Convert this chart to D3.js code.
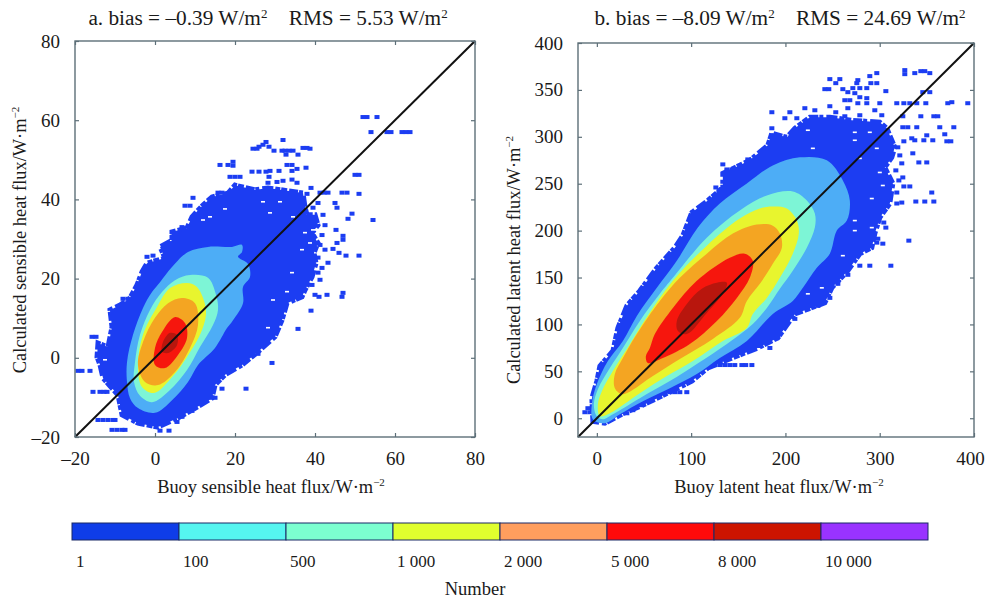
<!DOCTYPE html>
<html>
<head>
<meta charset="utf-8">
<script src="https://cdn.jsdelivr.net/npm/d3@7"></script>
<style>
  html, body { margin: 0; padding: 0; background: #fff; }
  svg { display: block; }
  text { font-family: "Liberation Serif", serif; fill: #1a1a1a; }
</style>
</head>
<body>
<script>
// density bands, outermost first, values are [buoy flux, calculated flux] in W/m2
const bandColors = ['#1c3ef2', '#4dadf6', '#7df5d6', '#e8f52e', '#f4a522', '#f6190f', '#b81308']

const sensibleBlue = [[-9.25,-9.4],[-13,-5.1],[-13.75,-1.8],[-14.5,0.2],[-14.25,3.7],[-11.75,2.7],[-10.75,7.8],[-11.25,12.1],[-8.75,13.3],[-6.25,15.1],[-4.5,18.4],[-3.25,21.7],[-2,23.9],[2.5,25.2],[1.25,28],[4.25,29.7],[4.25,31.8],[8,32.8],[9.25,35.6],[12,38.6],[14.25,40.6],[18.25,41.6],[20,43.6],[25,42.4],[28.25,42.9],[37,41.6],[37.5,38.1],[38,36.1],[40,36.1],[40.75,33.5],[39.25,31.5],[40.75,29],[39.75,26.5],[40.25,23.9],[39.25,20.4],[37.5,17.1],[36.75,15.4],[33,13.8],[31.75,9.5],[30,5.3],[25.75,1.5],[21.75,-1.8],[17.5,-4.3],[15,-6.9],[14.25,-10.2],[9.25,-13.2],[5.75,-15.2],[0.75,-17.5],[-4.25,-16.5],[-8.25,-14.4]]
const sensibleLightBlue = [[8.25,26.7],[13.25,28],[19.25,28],[21.75,28.5],[21.75,26.7],[20.75,25.5],[23.25,23.7],[23.75,20.4],[22,17.9],[22,13.8],[19.5,9.5],[18,7.5],[15,2.5],[10.75,-1.8],[8.25,-6.1],[4.25,-10.7],[0,-13.9],[-4.25,-12.7],[-6.25,-10.2],[-7,-6.1],[-7,-1.1],[-5.5,5.8],[-3,12.6],[-0.75,16.6],[1.25,19.1],[4.25,22.9]]
const sensibleTeal = [[5,19.6],[8.75,20.9],[13.25,20.2],[15.25,15.9],[15.75,12.1],[14.5,8.3],[11.25,2.7],[8,-3.1],[3.75,-8.1],[-0.75,-11.2],[-3.75,-9.6],[-5.25,-6.1],[-5,-1.1],[-3.75,5.8],[-1.25,12.1],[1.75,16.6]]
const sensibleYellow = [[8,18.9],[10.5,17.9],[12.75,12.1],[11.75,7],[8,0.2],[4.5,-4.6],[-0.25,-8.9],[-3.25,-7.4],[-4.25,-1.8],[-3,5.8],[0.5,12.8],[3.75,17.6]]
const sensibleOrange = [[6.75,15.1],[10,13.8],[10.75,8.3],[8.75,2.5],[5,-3.6],[0.75,-6.9],[-2.5,-6.1],[-4.25,-1.8],[-3,4],[0,10.1],[3.25,13.8]]
const sensibleRed = [[5,10.3],[7.5,8.8],[8,5],[5.75,0.7],[2.5,-2.6],[0,-1.8],[0,2.5],[1.75,6.5]]
const sensibleDark = [[3.75,6.3],[5.5,5.8],[5.5,3.2],[3.25,1.2],[1.75,1.5],[2,4]]

const sensibleOutliers = [[52,60.8],[53,60.8],[55.5,60.8],[54,57],[58,57],[59,57],[61.75,57],[62.75,57],[63.75,57],[32,55],[27.75,54.5],[27,53.8],[26,53.3],[24.5,52.8],[25.5,52.8],[28.5,53.3],[29.75,52.3],[31.75,52.3],[32.5,52.3],[33.5,52.3],[34.5,52.3],[32.75,51.3],[35.75,51.3],[37,53],[38,53],[38.75,52.8],[24.25,47],[26,47],[27.75,47],[28.75,47.2],[31,47.2],[33,48.7],[34.25,48.7],[35.5,47.7],[34.25,47.2],[37.75,48],[19.5,49.5],[19.5,48.5],[16.25,48.7],[18.25,48.7],[18.75,45.7],[20,45.7],[21.25,45.7],[28.5,45.7],[28.25,44.2],[30.5,44.4],[32,44.7],[34.25,45],[35.5,44.2],[39,42.9],[38,41.4],[41.25,41.7],[42.25,41.7],[43.25,41.7],[46.75,41.7],[48,41.7],[51,41.4],[40.75,39.1],[45,39.1],[45.5,37.9],[39.5,37.9],[49.25,36.4],[48.25,35.1],[54.5,34.8],[50,46.2],[51,46.2],[45.25,32.3],[47,30.8],[47,29.8],[45.5,29],[44.5,27.5],[46,26.5],[47.75,25.8],[51,25.8],[43.25,24],[43,15.9],[47,16.4],[46.75,15.4],[41,15.4],[39,11.9],[35.75,7.3],[-8,14.9],[-6.75,14.9],[-5.5,14.9],[-15.75,5.3],[-14.75,5.3],[-19.25,-3.3],[-18.25,-3.3],[-16.25,-3.3],[-15.5,-8.6],[-13.75,-8.6],[-12.75,-8.6],[-12,-8.6],[-14.25,-15.7],[-13,-15.7],[-11.75,-15.7],[-10.5,-15.7],[-10,-15.7],[-10.75,-18.2],[-9.5,-18.2],[-8.25,-18.2],[-7.5,-18.2],[16.75,-7.8],[22.75,-7.8],[29.25,-1.3],[25.75,1],[21.25,1.8],[10.75,-10.1],[12.25,-10.1],[13.75,-10.1],[15,-10.1],[6.75,-14.9],[5.5,-16.2],[3.5,-18.4],[1.25,-18.4],[9.25,-13.4],[9.5,40.4],[8.75,38.4],[7.5,38.4],[15.75,41.7],[16.75,41.7],[6.75,33],[4.5,31.6],[-2,25.5],[-0.5,25.8],[42,36.1],[42.5,33.5],[41.75,31],[41.25,28.5],[42.5,27.3],[40.75,25.3],[41.75,22.7],[40.75,21.5],[41.25,19.7],[39.25,18.4],[40,15.9]]
const sensibleGaps = [[33,16.7],[29.5,14.6],[28.25,7.6],[37.5,31.6],[36.75,27.3],[34.25,21.5],[38.75,29],[39.5,32.3],[28.75,36.6],[34.5,35.6],[27,39.4],[31.25,39.4],[13.75,35.6],[17.5,37.6],[12,34.8],[-12.5,-0.5]]

const latentBlue = [[-4.2,-3.2],[-5.3,21.4],[0,39.6],[3.2,55.6],[17,71.7],[22.3,96.3],[31.8,119.8],[45.6,135.8],[63.6,160.4],[82.7,181.8],[91.2,194.7],[100.7,219.3],[117.7,232.1],[133.6,246],[133.6,261],[162.2,274.9],[181.3,290.9],[185.6,303.7],[201.5,299.5],[210,309],[225.9,320.9],[247.1,320.9],[270.4,317.6],[300.1,315.5],[307.5,309.1],[316,288.8],[312.8,278],[305.4,267.4],[313.9,250.3],[310.7,228.9],[300.1,213.9],[294.8,196.8],[291.6,181.8],[278.9,175.4],[266.2,157.2],[249.2,139],[241.8,123],[210,111.2],[191.9,85.6],[170.7,74.9],[143.2,64.2],[117.7,53.5],[100.7,39.6],[79.5,28.9],[50.9,15],[26.5,4.3],[8.5,-5.3]]
const latentLightBlue = [[215.3,278.1],[243.9,274.9],[260.9,253.5],[268.3,232.1],[265.1,210.7],[254.5,200],[247.1,175.4],[233.3,160.4],[218.5,139],[207.8,125.1],[186.6,111.2],[159.1,82.4],[130.4,64.2],[106,47.1],[77.4,32.1],[48.8,18.2],[24.4,4.3],[8.5,-5.3],[-4.2,-1.1],[-5.3,15],[0,36.4],[11.7,61],[27.6,82.4],[42.4,109.1],[63.6,139],[84.8,167.9],[107.1,203.2],[130.4,228.9],[159.1,250.3],[186.6,269.5]]
const latentTeal = [[207.8,241.7],[222.7,232.1],[231.2,218.2],[231.2,203.2],[222.7,181.8],[207.8,157.2],[194.1,138],[180.3,117.6],[165.4,100.5],[137.9,79.1],[106,57.8],[77.4,39.6],[45.6,21.4],[17,4.3],[6.4,-1.1],[0,2.1],[-3.2,15],[1.1,31],[13.8,53.5],[27.6,74.9],[45.6,103.7],[66.8,132.6],[80.6,149.7],[116.6,192.5],[151.6,221.4],[180.3,237.4]]
const latentYellow = [[186.6,225.7],[201.5,223.5],[212.1,210.7],[214.2,196.8],[207.8,175.4],[194.1,149.7],[180.3,128.3],[165.4,111.2],[159,96.3],[133.6,82.4],[101.8,61],[74.2,44.9],[45.6,26.7],[13.8,5.3],[3.2,2.1],[1.1,15],[5.3,28.9],[17,50.3],[31.8,73.8],[53,108],[80.6,146.5],[116.6,184],[151.6,212.8],[172.9,223.5]]
const latentOrange = [[169.7,206.4],[186.6,205.3],[194.1,196.8],[196.2,181.8],[186.6,164.7],[172.9,143.3],[159.1,125.1],[151.6,107],[123,84.5],[88,63.1],[59.4,44.9],[27.6,25.7],[19.1,32.1],[19.1,47.1],[27.6,64.2],[42.4,89.8],[66.8,125.1],[88,149.7],[116.6,175.4],[144.2,196.8]]
const latentRed = [[141,171.1],[156.9,175.4],[165.4,167.9],[162.2,149.7],[148.5,128.3],[127.3,103.7],[98.6,79.1],[70,64.2],[54.1,58.8],[52,66.3],[56.2,74.9],[61.5,89.8],[80.6,117.6],[106,146.5]]
const latentDark = [[127.3,144.4],[137.9,144.4],[133.6,132.6],[116.6,112.3],[95.4,89.8],[85.9,93],[84.8,103.7],[95.4,121.9],[111.3,138]]

const latentOutliers = [[326.6,371.1],[326.6,366.8],[337.2,367.9],[343.6,370],[347.8,370],[353.1,367.9],[296.9,367.9],[289.5,364.7],[247.1,361.5],[257.7,361.5],[253.4,357.2],[276.8,360.4],[275.7,357.2],[290.6,357.2],[296.9,357.2],[241.8,350.8],[246,350.8],[260.9,350.8],[271.5,351.9],[278.9,351.9],[286.3,351.9],[306.5,348.7],[266.2,347.6],[273.6,346.5],[278.9,342.2],[263,339],[268.3,339],[286.3,341.2],[286.3,335.8],[345.7,347.6],[353.1,347.6],[276.8,335.8],[300.1,335.8],[318.1,335.8],[325.6,335.8],[331.9,335.8],[339.3,335.8],[348.9,335.8],[372.2,335.8],[376.5,336.9],[393.4,335.8],[266.2,330.5],[294.8,328.3],[278.9,323],[302.2,323],[324.5,321.9],[343.6,321.9],[357.4,321.9],[361.6,321.9],[324.5,310.2],[329.8,310.2],[339.3,310.2],[363.7,310.2],[378.6,310.2],[325.6,295.2],[334,298.4],[337.2,296.3],[346.8,296.3],[349.9,301.6],[356.3,296.3],[369,302.7],[371.2,295.2],[375.4,295.2],[335.1,282.4],[341.5,272.7],[349.9,272.7],[323.4,271.7],[324.5,256.7],[325.6,247.1],[331.9,247.1],[355.2,240.6],[338.3,231],[347.8,231],[357.4,231],[323.4,229.9],[330.9,189.3],[306.5,203.2],[303.3,186.1],[287.4,203.2],[289.5,196.8],[286.3,186.1],[296.9,187.2],[185.6,326.2],[185.6,309.1],[185.6,301.6],[133.6,270.6],[143.2,265.2],[137.9,265.2],[137.9,257.8],[143.2,257.8],[148.5,257.8],[160.1,275.9],[169.7,275.9],[126.2,246],[129.4,241.7],[101.8,219.3],[107.1,219.3],[266.2,152.9],[255.6,143.3],[247.1,128.3],[234.4,119.8],[289.5,162.6],[311.8,162.6],[278.9,162.6],[210,105.9],[199.4,98.4],[191.9,86.6],[183.5,74.9],[172.9,77],[125.1,56.7],[130.4,56.7],[135.7,56.7],[141,56.7],[146.3,56.7],[153.8,56.7],[157.9,56.7],[164.4,56.7],[95.4,27.8],[77.4,27.8],[82.7,27.8],[88,27.8],[64.7,25.7],[46.7,13.9],[38.2,8.6],[31.8,5.3],[-12.7,6.4],[-9.5,10.7],[-7.4,6.4],[5.3,55.6],[9.5,55.6],[26.5,96.3],[204.7,326.2],[199.4,319.8],[220.6,330.5],[231.2,328.3],[247.1,332.6],[253.4,326.2],[263,321.9],[212.1,319.8],[319.2,288.8],[321.3,280.2],[317.1,264.2],[320.3,253.5],[318.1,240.6],[318.1,228.9],[304.3,208.6],[298,191.4]]
const latentGaps = [[278.9,277],[300.1,262],[303.3,248.1],[291.6,234.2],[273.6,304.8],[289.5,304.8],[296.9,287.7],[273.6,296.3],[223.8,307],[229.1,287.7],[273.6,210.7],[291.6,203.2],[273.6,200],[260.9,173.3],[238.6,139],[223.8,132.6]]

const sensibleTicks = [-20, 0, 20, 40, 60, 80]
const latentXTicks = [0, 100, 200, 300, 400]
const latentYTicks = [0, 50, 100, 150, 200, 250, 300, 350, 400]

const legendColors = ['#0f3de8', '#55f5f0', '#7cffd0', '#e0ff2e', '#ff9e5e', '#ff0a0a', '#cc1400', '#9933ff']
const legendLabels = ['1', '100', '500', '1 000', '2 000', '5 000', '8 000', '10 000']

const svg = d3.select('body').append('svg')
    .attr('width', 985)
    .attr('height', 601)

svg.append('defs').append('filter')
    .attr('id', 'soft')
    .append('feGaussianBlur')
    .attr('stdDeviation', 0.45)

const tickText = d => String(d).replace('-', '–')

function panel(opts) {
    const x = d3.scaleLinear().domain(opts.domain).range([opts.left, opts.right])
    const y = d3.scaleLinear().domain(opts.domain).range([opts.bottom, opts.top])
    const g = svg.append('g')

    const marks = g.append('g').attr('filter', 'url(#soft)')

    // scattered low count points sit under the filled bands
    marks.selectAll('.pt').data(opts.outliers)
        .enter()
        .append('rect')
            .attr('class', 'pt')
            .attr('x', d => x(d[0]) - 2.5)
            .attr('y', d => y(d[1]) - 2)
            .attr('width', 5)
            .attr('height', 4)
            .attr('fill', bandColors[0])

    const smooth = d3.line().x(d => x(d[0])).y(d => y(d[1])).curve(d3.curveCatmullRomClosed.alpha(0.5))
    const rough = d3.line().x(d => x(d[0])).y(d => y(d[1])).curve(d3.curveLinearClosed)

    opts.bands.forEach((band, i) => {
        const p = marks.append('path')
            .attr('d', i == 0 ? rough(band) : smooth(band))
            .attr('fill', bandColors[i])
        // broken stroke gives the outer band its ragged edge
        if (i == 0) {
            p.attr('stroke', bandColors[0])
                .attr('stroke-width', 5)
                .attr('stroke-dasharray', '6 2 9 1 4 3 11 2 5 1')
        }
    })

    // small holes near the ragged edge
    marks.selectAll('.gap').data(opts.gaps)
        .enter()
        .append('rect')
            .attr('class', 'gap')
            .attr('x', d => x(d[0]) - 2)
            .attr('y', d => y(d[1]) - 0.8)
            .attr('width', 4)
            .attr('height', 1.6)
            .attr('fill', '#fff')

    // 1:1 line
    g.append('line')
        .attr('x1', x(opts.domain[0])).attr('y1', y(opts.domain[0]))
        .attr('x2', x(opts.domain[1])).attr('y2', y(opts.domain[1]))
        .attr('stroke', '#111')
        .attr('stroke-width', 2)

    // frame and axes, ticks point inwards on all four sides
    g.append('rect')
        .attr('x', opts.left).attr('y', opts.top)
        .attr('width', opts.right - opts.left).attr('height', opts.bottom - opts.top)
        .attr('fill', 'none')
        .attr('stroke', '#5d6f78')
        .attr('stroke-width', 1.4)

    const bottomAxis = g.append('g')
        .attr('transform', 'translate(0,' + opts.bottom + ')')
        .call(d3.axisBottom(x).tickValues(opts.xTicks).tickSize(-4).tickPadding(15).tickFormat(tickText))
    const leftAxis = g.append('g')
        .attr('transform', 'translate(' + opts.left + ',0)')
        .call(d3.axisLeft(y).tickValues(opts.yTicks).tickSize(-4).tickPadding(15).tickFormat(tickText))
    const topAxis = g.append('g')
        .attr('transform', 'translate(0,' + opts.top + ')')
        .call(d3.axisTop(x).tickValues(opts.xTicks).tickSize(-4).tickFormat(''))
    const rightAxis = g.append('g')
        .attr('transform', 'translate(' + opts.right + ',0)')
        .call(d3.axisRight(y).tickValues(opts.yTicks).tickSize(-4).tickFormat(''))

    ;[bottomAxis, leftAxis, topAxis, rightAxis].forEach(a => {
        a.select('.domain').remove()
        a.selectAll('line').attr('stroke', '#5d6f78').attr('stroke-width', 1.2)
        a.selectAll('text').style('font-family', '"Liberation Serif", serif').style('font-size', '19px').attr('fill', '#1a1a1a')
    })

    // last x label is nudged in so it stays on the page
    bottomAxis.selectAll('text').filter(d => d == opts.domain[1]).attr('dx', opts.lastTickShift)

    // title with superscripts
    const title = g.append('text')
        .attr('x', opts.titleX).attr('y', 25)
        .attr('text-anchor', 'middle')
        .style('font-size', '21.3px')
    title.append('tspan').text(opts.title[0] + ' W/m')
    title.append('tspan').attr('dy', -7).style('font-size', '13px').text('2')
    title.append('tspan').attr('dy', 7).text('\u00a0\u00a0\u00a0\u00a0' + opts.title[1] + ' W/m')
    title.append('tspan').attr('dy', -7).style('font-size', '13px').text('2')

    unitLabel(g, opts.xLabel, opts.xLabelX, 493, 0)
    unitLabel(g, opts.yLabel, opts.yLabelX, opts.yLabelY, -90)
}

function unitLabel(g, name, px, py, angle) {
    const t = g.append('text')
        .attr('transform', 'translate(' + px + ',' + py + ')rotate(' + angle + ')')
        .attr('text-anchor', 'middle')
        .style('font-size', '18.4px')
    t.append('tspan').text(name + '/W·m')
    t.append('tspan').attr('dy', -7).style('font-size', '11px').text('−2')
}

panel({
    left: 75, right: 475, top: 41, bottom: 437,
    domain: [-20, 80],
    xTicks: sensibleTicks, yTicks: sensibleTicks,
    outliers: sensibleOutliers, gaps: sensibleGaps,
    bands: [sensibleBlue, sensibleLightBlue, sensibleTeal, sensibleYellow, sensibleOrange, sensibleRed, sensibleDark],
    title: ['a. bias = –0.39', 'RMS = 5.53'], titleX: 268,
    xLabel: 'Buoy sensible heat flux', xLabelX: 271, lastTickShift: 0,
    yLabel: 'Calculated sensible heat flux', yLabelX: 26, yLabelY: 240
})

panel({
    left: 578, right: 974, top: 43, bottom: 437,
    domain: [-20, 400],
    xTicks: latentXTicks, yTicks: latentYTicks,
    outliers: latentOutliers, gaps: latentGaps,
    bands: [latentBlue, latentLightBlue, latentTeal, latentYellow, latentOrange, latentRed, latentDark],
    title: ['b. bias = –8.09', 'RMS = 24.69'], titleX: 780,
    xLabel: 'Buoy latent heat flux', xLabelX: 779, lastTickShift: -4,
    yLabel: 'Calculated latent heat flux', yLabelX: 520, yLabelY: 260
})

// colour bar
const legendX = d3.scaleBand().domain(legendLabels).range([72, 928])
const legend = svg.append('g')

legend.selectAll('rect').data(legendLabels)
    .enter()
    .append('rect')
        .attr('x', d => legendX(d))
        .attr('y', 523)
        .attr('width', legendX.bandwidth())
        .attr('height', 17)
        .attr('fill', (d, i) => legendColors[i])
        .attr('stroke', '#1a2a66')
        .attr('stroke-width', 1)

legend.selectAll('text').data(legendLabels)
    .enter()
    .append('text')
        .attr('x', d => legendX(d) + 4)
        .attr('y', 567)
        .style('font-size', '17px')
        .text(d => d)

svg.append('text')
    .attr('x', 475).attr('y', 595)
    .attr('text-anchor', 'middle')
    .style('font-size', '18.5px')
    .text('Number')
</script>
</body>
</html>
